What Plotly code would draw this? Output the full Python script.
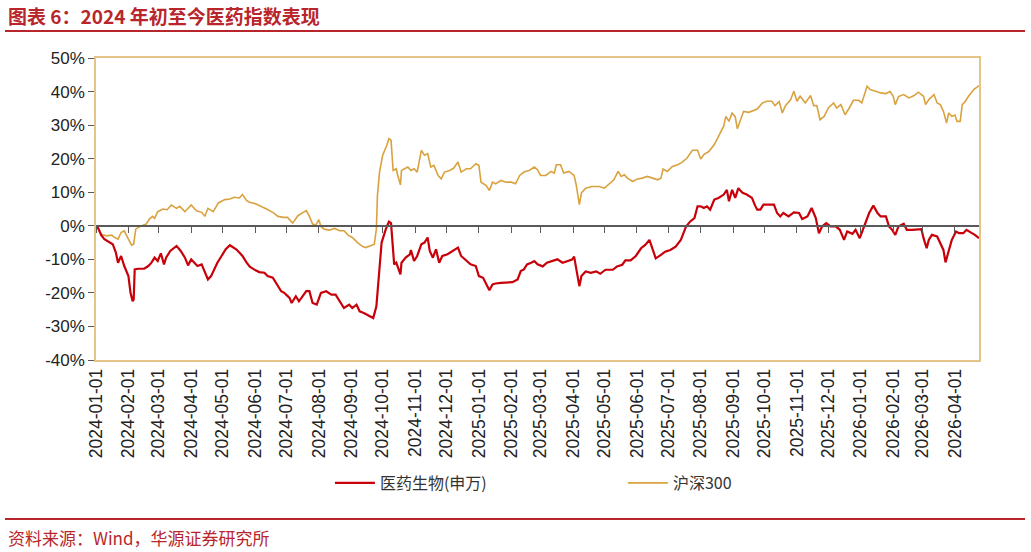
import plotly.graph_objects as go

# ---------------- data ----------------
hs300_dates = [
    "2024-01-02","2024-01-06","2024-01-11","2024-01-16","2024-01-19","2024-01-22","2024-01-25","2024-01-28",
    "2024-02-01","2024-02-04","2024-02-06","2024-02-08","2024-02-12","2024-02-18","2024-02-21","2024-02-24",
    "2024-02-26","2024-02-29","2024-03-05","2024-03-09","2024-03-13","2024-03-18","2024-03-21","2024-03-26",
    "2024-04-01","2024-04-06","2024-04-11","2024-04-14","2024-04-17","2024-04-22","2024-04-27","2024-05-03",
    "2024-05-08","2024-05-12","2024-05-17","2024-05-20","2024-05-24","2024-05-27","2024-06-02","2024-06-07",
    "2024-06-12","2024-06-18","2024-06-23","2024-06-28","2024-07-02","2024-07-07","2024-07-12","2024-07-17",
    "2024-07-20","2024-07-23","2024-07-26","2024-07-29","2024-08-01","2024-08-03","2024-08-06","2024-08-11",
    "2024-08-16","2024-08-21","2024-08-25","2024-08-29","2024-09-02","2024-09-07","2024-09-12","2024-09-15",
    "2024-09-20","2024-09-23","2024-09-25","2024-09-26","2024-09-28","2024-10-01","2024-10-05","2024-10-07",
    "2024-10-09","2024-10-10","2024-10-11","2024-10-14","2024-10-15","2024-10-18","2024-10-19","2024-10-22",
    "2024-10-25","2024-10-28","2024-10-31","2024-11-03","2024-11-07","2024-11-10","2024-11-13","2024-11-16",
    "2024-11-19","2024-11-23","2024-11-26","2024-11-29","2024-12-04","2024-12-08","2024-12-12","2024-12-15",
    "2024-12-20","2024-12-24","2024-12-29","2025-01-01","2025-01-03","2025-01-08","2025-01-11","2025-01-14",
    "2025-01-17","2025-01-22","2025-01-27","2025-02-01","2025-02-05","2025-02-09","2025-02-13","2025-02-18",
    "2025-02-23","2025-02-26","2025-03-01","2025-03-06","2025-03-11","2025-03-14","2025-03-16","2025-03-20",
    "2025-03-23","2025-03-28","2025-04-02","2025-04-04","2025-04-07","2025-04-09","2025-04-13","2025-04-19",
    "2025-04-26","2025-05-01","2025-05-05","2025-05-10","2025-05-14","2025-05-17","2025-05-20","2025-05-23",
    "2025-05-28","2025-06-01","2025-06-06","2025-06-11","2025-06-16","2025-06-21","2025-06-24","2025-06-26",
    "2025-06-30","2025-07-05","2025-07-10","2025-07-14","2025-07-19","2025-07-24","2025-07-29","2025-08-01",
    "2025-08-04","2025-08-09","2025-08-14","2025-08-18","2025-08-23","2025-08-25","2025-08-28","2025-08-31",
    "2025-09-03","2025-09-05","2025-09-08","2025-09-11","2025-09-16","2025-09-19","2025-09-24","2025-09-29",
    "2025-10-03","2025-10-08","2025-10-11","2025-10-15","2025-10-18","2025-10-21","2025-10-26","2025-10-29",
    "2025-11-01","2025-11-04","2025-11-09","2025-11-14","2025-11-17","2025-11-20","2025-11-23","2025-11-27",
    "2025-12-01","2025-12-06","2025-12-09","2025-12-13","2025-12-17","2025-12-21","2025-12-25","2025-12-30",
    "2026-01-02","2026-01-07","2026-01-10","2026-01-15","2026-01-20","2026-01-25","2026-01-29","2026-02-01",
    "2026-02-03","2026-02-06","2026-02-11","2026-02-16","2026-02-21","2026-02-25","2026-03-02","2026-03-04",
    "2026-03-07","2026-03-12","2026-03-15","2026-03-18","2026-03-21","2026-03-24","2026-03-26","2026-03-29",
    "2026-04-01","2026-04-03","2026-04-06","2026-04-08","2026-04-11","2026-04-14","2026-04-19","2026-04-24",
]
hs300_values = [
    0, -2.5, -3, -2.8, -3.5, -4, -2, -1.5,
    -4, -5.8, -5.5, -1, -0.2, 0.5, 2, 2.8,
    2.2, 4.2, 5, 4.8, 6.2, 5.2, 5.8, 4.2,
    6.2, 4.5, 4, 2.8, 5.2, 4.2, 6.8, 7.8,
    8, 8.5, 8.3, 9.3, 7.5, 7, 6.5, 5.8,
    5, 4, 2.8, 2.5, 2.5, 0.8, 3, 4,
    4.5, 2.8, 0.5, 0.2, 1.8, -0.2, -1, -1.3,
    -0.8, -1.5, -1.5, -2.8, -3.5, -5, -6.2, -6.5,
    -6, -5.5, -1, 9, 16, 21, 24, 26,
    25.5, 19, 16.5, 17, 15.5, 12.2, 16.5, 17,
    17.5, 16.5, 17, 16, 22.5, 21, 21.5, 17.5,
    18, 15, 14, 16, 16.5, 17.2, 19, 16,
    17, 17, 18.5, 18, 13, 12, 10.5, 13,
    12.5, 13.5, 13, 13, 12.5, 15, 16, 16.5,
    17.5, 16.7, 15, 15, 16.2, 15.7, 18.2, 18.2,
    15.7, 16.2, 15, 12.2, 6.3, 9.8, 11.2, 11.7,
    11.7, 11.2, 12.2, 13.7, 16.2, 14.7, 15.2, 14.2,
    13.2, 13.9, 14.2, 14.7, 14.2, 13.7, 14.2, 16.9,
    16.2, 17.7, 18.2, 18.9, 20.2, 22.5, 22.5, 19.9,
    21.2, 22.2, 24.2, 26.7, 29.7, 32.6, 31.1, 33.6,
    32.5, 28.9, 31.6, 34.1, 33.8, 34.1, 34.8, 36.6,
    37.1, 37.1, 35.8, 37, 33.6, 35.8, 37.6, 40.1,
    37.1, 38.6, 36.6, 38.8, 35.8, 35.8, 31.6, 32.6,
    35.1, 36.6, 35.1, 36.1, 33.1, 35.1, 37.4, 37.4,
    36.6, 41.6, 40.6, 40.1, 39.6, 39.4, 40, 38.6,
    36.1, 38.5, 39.1, 38.1, 38.8, 39.8, 38.6, 36.1,
    37.6, 39.1, 36.6, 36.1, 34.1, 30.6, 33.6, 32.6,
    33, 31.1, 31.1, 36.1, 37.1, 38.6, 40.6, 41.8,
]

pharma_dates = [
    "2024-01-02","2024-01-06","2024-01-09","2024-01-14","2024-01-17","2024-01-20","2024-01-22","2024-01-25",
    "2024-01-28","2024-02-01","2024-02-03","2024-02-05","2024-02-06","2024-02-07","2024-02-10","2024-02-16",
    "2024-02-20","2024-02-23","2024-02-26","2024-02-29","2024-03-03","2024-03-06","2024-03-08","2024-03-12",
    "2024-03-16","2024-03-18","2024-03-22","2024-03-26","2024-03-29","2024-04-01","2024-04-04","2024-04-07",
    "2024-04-11","2024-04-14","2024-04-17","2024-04-20","2024-04-23","2024-04-26","2024-04-30","2024-05-04",
    "2024-05-08","2024-05-11","2024-05-14","2024-05-17","2024-05-20","2024-05-24","2024-05-27","2024-05-31",
    "2024-06-05","2024-06-10","2024-06-13","2024-06-18","2024-06-23","2024-06-26","2024-06-29","2024-07-04",
    "2024-07-06","2024-07-10","2024-07-13","2024-07-20","2024-07-23","2024-07-26","2024-07-30","2024-08-02",
    "2024-08-03","2024-08-08","2024-08-13","2024-08-17","2024-08-21","2024-08-25","2024-08-30","2024-09-02",
    "2024-09-06","2024-09-09","2024-09-13","2024-09-18","2024-09-22","2024-09-25","2024-09-28","2024-09-30",
    "2024-10-04","2024-10-07","2024-10-09","2024-10-11","2024-10-12","2024-10-14","2024-10-16","2024-10-18",
    "2024-10-19","2024-10-23","2024-10-27","2024-10-28","2024-10-31","2024-11-03","2024-11-07","2024-11-10",
    "2024-11-13","2024-11-15","2024-11-18","2024-11-21","2024-11-24","2024-11-27","2024-12-02","2024-12-07",
    "2024-12-12","2024-12-15","2024-12-20","2024-12-24","2024-12-29","2025-01-01","2025-01-05","2025-01-08",
    "2025-01-11","2025-01-14","2025-01-17","2025-01-22","2025-01-27","2025-02-02","2025-02-07","2025-02-10",
    "2025-02-13","2025-02-16","2025-02-20","2025-02-23","2025-02-26","2025-03-03","2025-03-07","2025-03-12",
    "2025-03-17","2025-03-22","2025-03-27","2025-03-31","2025-04-02","2025-04-04","2025-04-07","2025-04-09",
    "2025-04-10","2025-04-13","2025-04-18","2025-04-23","2025-04-27","2025-05-02","2025-05-09","2025-05-13",
    "2025-05-18","2025-05-21","2025-05-26","2025-05-31","2025-06-05","2025-06-09","2025-06-13","2025-06-16",
    "2025-06-19","2025-06-24","2025-06-28","2025-07-03","2025-07-08","2025-07-13","2025-07-18","2025-07-22",
    "2025-07-26","2025-07-29","2025-08-01","2025-08-04","2025-08-07","2025-08-10","2025-08-14","2025-08-18",
    "2025-08-23","2025-08-26","2025-08-28","2025-08-31","2025-09-03","2025-09-06","2025-09-10","2025-09-14",
    "2025-09-19","2025-09-22","2025-09-24","2025-09-27","2025-09-30","2025-10-05","2025-10-10","2025-10-13",
    "2025-10-16","2025-10-19","2025-10-24","2025-10-29","2025-11-03","2025-11-06","2025-11-11","2025-11-15",
    "2025-11-19","2025-11-22","2025-11-25","2025-11-29","2025-12-03","2025-12-08","2025-12-12","2025-12-16",
    "2025-12-19","2025-12-24","2025-12-27","2025-12-31","2026-01-04","2026-01-09","2026-01-13","2026-01-17",
    "2026-01-20","2026-01-25","2026-01-28","2026-01-31","2026-02-03","2026-02-06","2026-02-11","2026-02-14",
    "2026-02-19","2026-02-24","2026-02-28","2026-03-02","2026-03-05","2026-03-07","2026-03-10","2026-03-15",
    "2026-03-18","2026-03-21","2026-03-23","2026-03-26","2026-03-29","2026-03-31","2026-04-02","2026-04-05",
    "2026-04-09","2026-04-12","2026-04-17","2026-04-20","2026-04-24",
]
pharma_values = [
    0, -2.8, -4, -4.8, -5.5, -8, -11, -9,
    -12, -15, -20, -22.5, -22, -13, -12.8, -12.8,
    -12, -11, -9.5, -10.5, -8.2, -11.5, -9.5, -7.5,
    -6.5, -6, -7.5, -9.5, -11.8, -10, -11, -12,
    -11.5, -13.5, -16, -15, -13, -11, -9, -7,
    -5.8, -6.5, -7, -8, -9, -11, -12.2, -13,
    -13.8, -14, -15, -15.5, -18, -19.5, -20, -21.5,
    -23, -21, -22.5, -19.5, -19.5, -23, -23.5, -21,
    -20, -19.5, -20.5, -20.5, -22.5, -24.5, -23.5, -24.5,
    -23.5, -25.5, -26, -26.8, -27.5, -24, -11, -5,
    -1, 1.2, 0.8, -8, -11.5, -11, -13, -14.5,
    -11, -9.5, -8.5, -7.2, -10.5, -9, -5.5, -5,
    -3.5, -7.5, -9.5, -7, -11, -9, -8.5, -7.5,
    -6.5, -9, -10.5, -11.5, -12, -15, -15.5, -17.5,
    -19.2, -17.5, -17.2, -17, -17, -16.8, -16, -13.5,
    -13, -11.5, -11, -10.5, -11.5, -12.1, -11, -10.6,
    -10, -11, -10.6, -10.1, -9.2, -13, -18, -15,
    -14.6, -13.6, -14, -13.6, -14.3, -13.1, -13.1, -12.1,
    -11.6, -10.3, -10.3, -9, -6.7, -5.7, -4.2, -6.7,
    -9.7, -8.7, -7.7, -7.2, -6.2, -4.2, -0.2, 1.3,
    2.3, 5.8, 5.8, 5.3, 5.8, 4.8, 7.8, 8.3,
    9.3, 10.7, 7.3, 10.7, 8.3, 11.2, 9.8, 9.3,
    8.3, 6, 4.8, 4.8, 6.3, 6.3, 6.3, 3.8,
    2.8, 3.8, 2.8, 4, 3.8, 2, 2.8, 5.3,
    2.3, -2.2, -0.2, 0.8, -0.2, -0.2, -1.2, -4.2,
    -1.7, -2.4, -1.2, -3.7, -0.2, 3.8, 6, 3.8,
    2.8, 2.8, -0.2, -1.2, -2.7, -0.2, 0.6, -1.2,
    -1.2, -1.2, -1, -3.7, -6.7, -4.2, -2.7, -3.2,
    -5.2, -7.2, -10.9, -7.7, -4.2, -3, -1.7, -2.2,
    -2.2, -1.2, -2, -2.7, -3.7,
]

y_ticks = [-40, -30, -20, -10, 0, 10, 20, 30, 40, 50]
y_ticktext = [f"{v}%" for v in y_ticks]
x_range = ["2024-01-01", "2026-04-24"]

title_text = "图表 6：2024 年初至今医药指数表现"
source_text = "资料来源：Wind，华源证券研究所"
name_pharma = "医药生物(申万)"
name_hs300 = "沪深300"

RED = "#C8000A"
GOLD = "#D9A23F"
FRAME = "#E6C487"
DARK_RED = "#B8262B"
AXIS_GRAY = "#595959"

fig = go.Figure()
fig.add_trace(go.Scatter(x=pharma_dates, y=pharma_values, name=name_pharma, mode="lines",
                         line=dict(color=RED, width=2.2), xaxis="x2"))
fig.add_trace(go.Scatter(x=hs300_dates, y=hs300_values, name=name_hs300, mode="lines",
                         line=dict(color=GOLD, width=1.6)))

zero_pos = (0 - y_ticks[0]) / (y_ticks[-1] - y_ticks[0])

fig.update_layout(
    width=1031, height=552,
    margin=dict(l=96, r=52, t=58, b=192, autoexpand=False),
    paper_bgcolor="white", plot_bgcolor="white",
    font=dict(family="Liberation Sans, Arial, sans-serif", color="#222222"),
    showlegend=True,
    legend=dict(orientation="h", xref="container", yref="container",
                x=0.320, y=0.125, xanchor="left", yanchor="middle",
                entrywidth=238, entrywidthmode="pixels", itemwidth=40,
                font=dict(family="Noto Sans CJK SC, sans-serif", size=16, color="#333333"),
                bgcolor="rgba(0,0,0,0)"),
    xaxis=dict(type="date", range=x_range, dtick="M1", tick0="2024-01-01",
               tickformat="%Y-%m-%d", tickangle=-90, ticks="",
               showgrid=False, zeroline=False,
               showline=True, linecolor=FRAME, linewidth=1.5, mirror=True,
               tickfont=dict(size=17.5, color="#222222")),
    xaxis2=dict(type="date", matches="x", overlaying="x", anchor="free", position=zero_pos,
                side="bottom", dtick="M1", tick0="2024-01-01",
                ticks="outside", ticklen=6, tickcolor=AXIS_GRAY, tickwidth=1.2,
                showticklabels=False, showgrid=False, zeroline=False,
                showline=True, linecolor=AXIS_GRAY, linewidth=1.5),
    yaxis=dict(range=[y_ticks[0], y_ticks[-1]], tickvals=y_ticks, ticktext=y_ticktext,
               ticks="outside", ticklen=6, tickcolor=AXIS_GRAY,
               showgrid=False, zeroline=False,
               showline=True, linecolor=FRAME, linewidth=1.5, mirror=True,
               tickfont=dict(size=17, color="#222222")),
)

# decorations (paper coords relative to plot area)
W0, W1, H0, H1 = 96, 979, 58, 360
def px(xp):
    return (xp - W0) / (W1 - W0)
def py(yp):
    return (H1 - yp) / (H1 - H0)

fig.add_shape(type="line", xref="paper", yref="paper", x0=px(5), x1=px(1025), y0=py(31), y1=py(31),
              line=dict(color=DARK_RED, width=2))
fig.add_shape(type="line", xref="paper", yref="paper", x0=px(5), x1=px(1025), y0=py(519), y1=py(519),
              line=dict(color=DARK_RED, width=2))
fig.add_annotation(text=f"<b>{title_text}</b>", xref="paper", yref="paper", x=px(6), y=py(16),
                   xanchor="left", yanchor="middle", showarrow=False,
                   font=dict(family="Noto Sans CJK SC, sans-serif", size=19, color=DARK_RED))
fig.add_annotation(text=source_text, xref="paper", yref="paper", x=px(6), y=py(537),
                   xanchor="left", yanchor="middle", showarrow=False,
                   font=dict(family="Noto Sans CJK SC, sans-serif", size=17, color=DARK_RED))

fig.write_html("out.html")
